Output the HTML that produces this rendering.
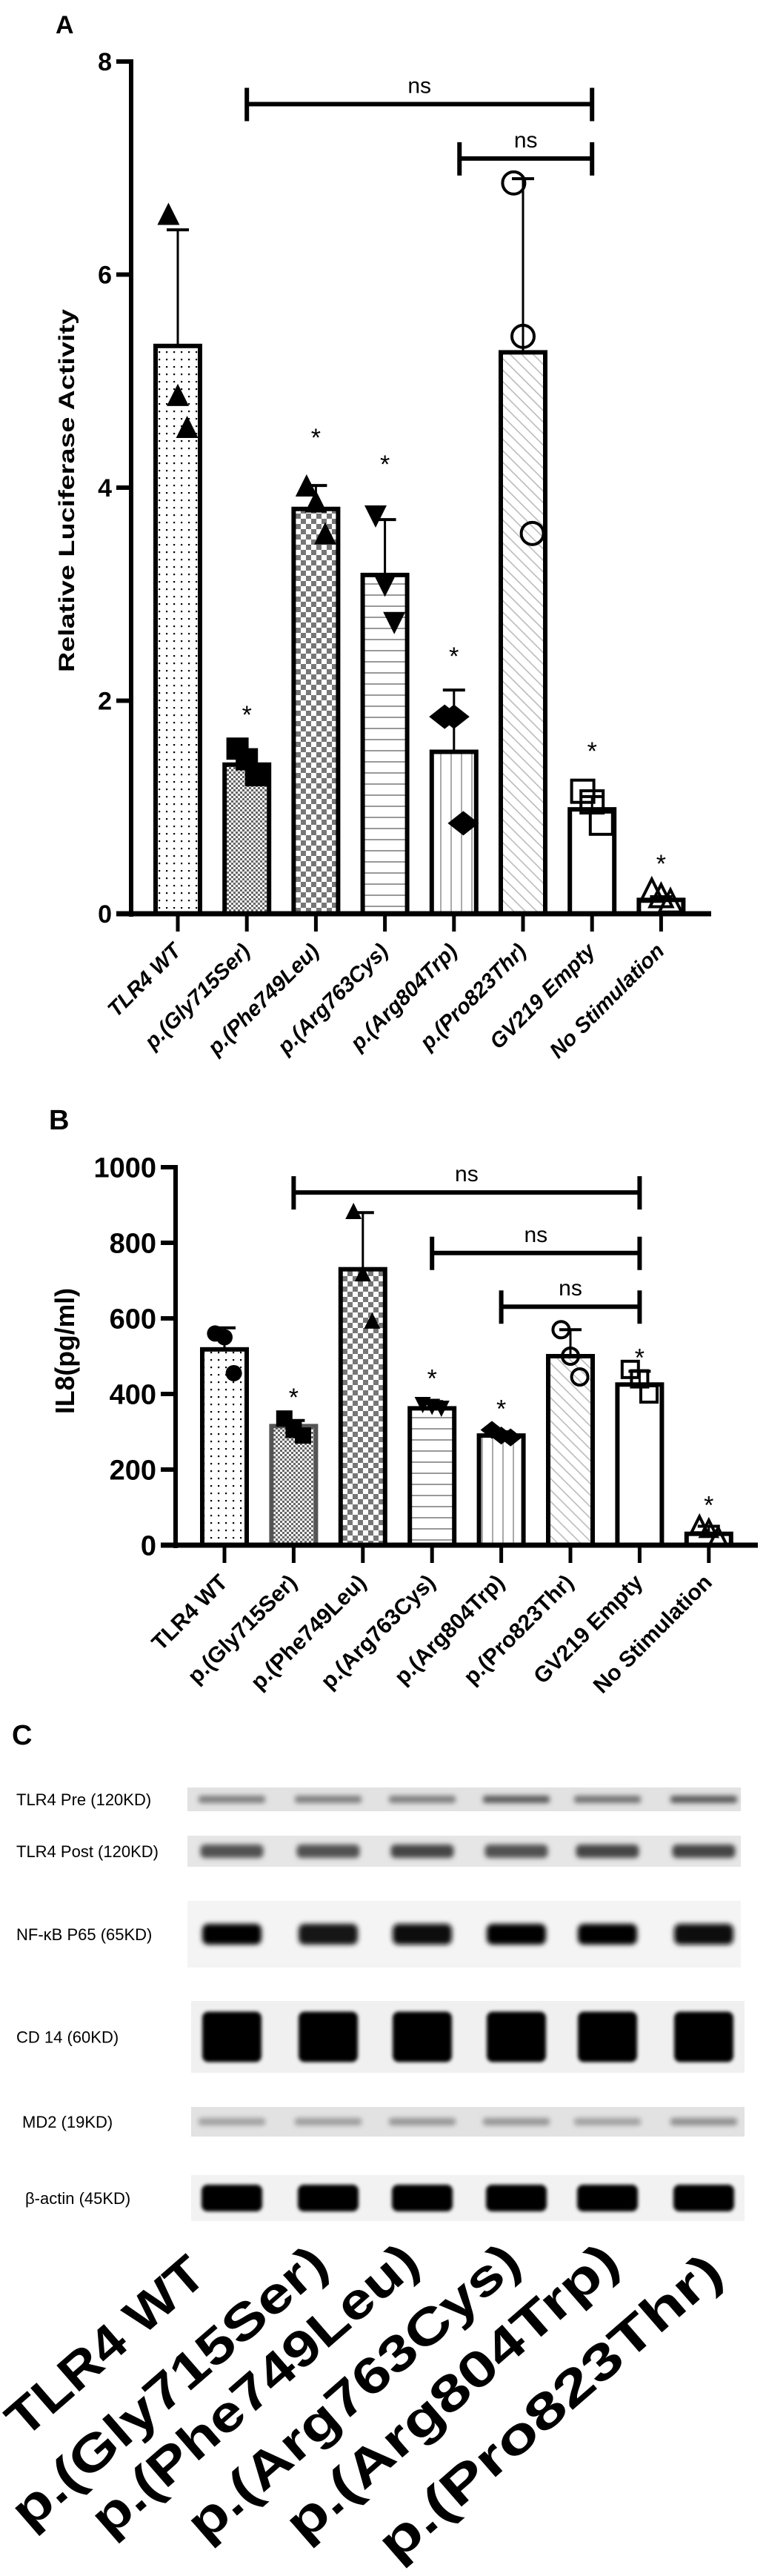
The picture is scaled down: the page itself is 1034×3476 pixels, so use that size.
<!DOCTYPE html>
<html><head><meta charset="utf-8"><style>
html,body{margin:0;padding:0;background:#fff;}
svg{display:block;}
text{font-family:"Liberation Sans",sans-serif;}
</style></head><body>
<svg id="fig" width="1034" height="3476" viewBox="0 0 1034 3476" xmlns="http://www.w3.org/2000/svg">
<defs>
<pattern id="p-dots" width="10" height="10" patternUnits="userSpaceOnUse"><rect width="10" height="10" fill="#fff"/><rect x="4" y="4" width="2.2" height="2.2" fill="#000"/></pattern>
<pattern id="p-fine" width="6" height="6" patternUnits="userSpaceOnUse"><rect width="6" height="6" fill="#fff"/><rect width="3" height="3" fill="#666"/><rect x="3" y="3" width="3" height="3" fill="#666"/></pattern>
<pattern id="p-coarse" width="14" height="14" patternUnits="userSpaceOnUse"><rect width="14" height="14" fill="#fff"/><rect width="7" height="7" fill="#777"/><rect x="7" y="7" width="7" height="7" fill="#777"/></pattern>
<pattern id="p-hl" width="15" height="15" patternUnits="userSpaceOnUse"><rect width="15" height="15" fill="#fff"/><rect y="7" width="15" height="2" fill="#999"/></pattern>
<pattern id="p-vl" width="14" height="14" patternUnits="userSpaceOnUse"><rect width="14" height="14" fill="#fff"/><rect x="6" width="2" height="14" fill="#aaa"/></pattern>
<pattern id="p-diag" width="11" height="11" patternUnits="userSpaceOnUse" patternTransform="rotate(-45)"><rect width="11" height="11" fill="#fff"/><rect x="5" width="1.6" height="11" fill="#bbb"/></pattern>
<pattern id="p-white" width="10" height="10" patternUnits="userSpaceOnUse"><rect width="10" height="10" fill="#fff"/></pattern>
<filter id="blur" x="-40%" y="-100%" width="180%" height="300%"><feGaussianBlur stdDeviation="3.5"/></filter>
<filter id="blur2" x="-30%" y="-60%" width="160%" height="220%"><feGaussianBlur stdDeviation="2.5"/></filter>
</defs>
<g id="panelA"></g>
<g id="panelB"></g>
<g id="panelC"></g>
</svg>
<script>
// ---- shared data ----
var categories = ["TLR4 WT","p.(Gly715Ser)","p.(Phe749Leu)","p.(Arg763Cys)","p.(Arg804Trp)","p.(Pro823Thr)","GV219 Empty","No Stimulation"];
var fills = ["p-dots","p-fine","p-coarse","p-hl","p-vl","p-diag","p-white","p-white"];
// Panel A
var aMeans = [5.33,1.40,3.80,3.18,1.52,5.27,0.98,0.13];
var aErrTop = [6.42,null,4.02,3.70,2.10,6.90,1.10,0.16];
var aPoints = [[6.55,4.85,4.55],[1.55,1.45,1.30],[4.0,3.85,3.55],[3.75,3.1,2.75],[1.85,1.85,0.85],[6.86,5.42,3.57],[1.15,1.05,0.85],[0.2,0.15,0.1]];
var aStars = [null,1.9,4.5,4.25,2.45,null,1.56,0.5];
var aTicks = [0,2,4,6,8];
var aNs = [[1,6,7.6],[4.08,6,7.09]];
var aMarkers = ["tri","sq","tri","tri-down","dia","o-circ","o-sq","o-tri"];
// Panel B
var bMeans = [518,315,730,362,290,500,425,30];
var bErrTop = [575,330,880,380,300,570,460,50];
var bPoints = [[560,550,455],[335,305,290],[880,715,590],[375,370,365],[305,290,285],[570,500,445],[465,440,400],[50,40,20]];
var bStars = [null,400,null,450,370,null,505,115];
var bTicks = [0,200,400,600,800,1000];
var bNs = [[1,6,933],[3,6,773],[4,6,631]];
var bMarkers = ["circ","sq","tri","tri-down","dia","o-circ","o-sq","o-tri"];
var jitter = [-0.35,0,0.35];

var NS = "http://www.w3.org/2000/svg";
function mk(parent, tag, attrs, txt){
  var e = document.createElementNS(NS, tag);
  for (var k in attrs) e.setAttribute(k, attrs[k]);
  if (txt !== undefined) e.textContent = txt;
  parent.appendChild(e);
  return e;
}

function marker(g, type, cx, cy, s){
  var e;
  var fill = type.indexOf("o-") === 0 ? "none" : "#000";
  var st = {fill: fill, stroke: "#000", "stroke-width": fill === "none" ? 4 : 0};
  var t = type.replace("o-","");
  if (t === "tri") e = mk(g,"polygon",Object.assign({points:(cx)+","+(cy-s*0.6)+" "+(cx-s/2)+","+(cy+s*0.4)+" "+(cx+s/2)+","+(cy+s*0.4)},st));
  else if (t === "tri-down") e = mk(g,"polygon",Object.assign({points:(cx)+","+(cy+s*0.6)+" "+(cx-s/2)+","+(cy-s*0.4)+" "+(cx+s/2)+","+(cy-s*0.4)},st));
  else if (t === "sq") e = mk(g,"rect",Object.assign({x:cx-s/2,y:cy-s/2,width:s,height:s},st));
  else if (t === "dia") e = mk(g,"polygon",Object.assign({points:cx+","+(cy-s*0.55)+" "+(cx+s*0.7)+","+cy+" "+cx+","+(cy+s*0.55)+" "+(cx-s*0.7)+","+cy},st));
  else e = mk(g,"circle",Object.assign({cx:cx,cy:cy,r:s/2},st));
  
  
}

function drawBar(cfg){
  var g = document.getElementById(cfg.id);
  var y = function(v){ return cfg.y0 - (v - 0) * (cfg.y0 - cfg.yTop) / cfg.max; };
  var x = function(i){ return cfg.x0 + i * cfg.step; };
  var L = mk(g,"text",{x:cfg.letter[0],y:cfg.letter[1],"font-size":cfg.letterSize,"font-weight":"bold"},cfg.letterText);
  
  
  for (var i=0;i<cfg.means.length;i++){
    var cx = x(i), top = y(cfg.means[i]);
    var r = mk(g,"rect",{x:cx-cfg.bw/2,y:top,width:cfg.bw,height:cfg.y0-top,fill:"url(#"+fills[i]+")",stroke:(i===1&&cfg.id==="panelB")?"#555":"#000","stroke-width":cfg.bs});
    
    
  }
  for (var i=0;i<cfg.means.length;i++){
    if (cfg.err[i]===null) continue;
    var cx = x(i);
    var eg = mk(g,"g",{});
    
    
    mk(eg,"line",{x1:cx,x2:cx,y1:y(cfg.means[i]),y2:y(cfg.err[i]),stroke:"#000","stroke-width":3});
    mk(eg,"line",{x1:cx-15,x2:cx+15,y1:y(cfg.err[i]),y2:y(cfg.err[i]),stroke:"#000","stroke-width":4});
  }
  for (var i=0;i<cfg.points.length;i++){
    for (var j=0;j<cfg.points[i].length;j++){
      var off = cfg.jit ? jitter[j]*cfg.bw*0.6 : 0;
      marker(g, cfg.markers[i], x(i)+off, y(cfg.points[i][j]), cfg.ms);
    }
  }
  for (var i=0;i<cfg.stars.length;i++){
    if (cfg.stars[i]===null) continue;
    var s = mk(g,"text",{x:x(i),y:y(cfg.stars[i])+16,"font-size":34,"text-anchor":"middle"},"*");
    
    
  }
  for (var k=0;k<cfg.ns.length;k++){
    var b = cfg.ns[k], x1 = x(b[0]), x2 = x(b[1]), yy = y(b[2]);
    var bg = mk(g,"g",{});
    
    
    mk(bg,"line",{x1:x1,x2:x2,y1:yy,y2:yy,stroke:"#000","stroke-width":6});
    mk(bg,"line",{x1:x1,x2:x1,y1:yy-22,y2:yy+23,stroke:"#000","stroke-width":6});
    mk(bg,"line",{x1:x2,x2:x2,y1:yy-22,y2:yy+23,stroke:"#000","stroke-width":6});
    mk(bg,"text",{x:(x1+x2)/2,y:yy-15,"font-size":cfg.nsSize,"text-anchor":"middle"},"ns");
  }
  var ax = mk(g,"g",{});
  
  
  mk(ax,"line",{x1:cfg.ax,x2:cfg.ax,y1:y(cfg.max)-3,y2:cfg.y0+4,stroke:"#000","stroke-width":6});
  mk(ax,"line",{x1:cfg.ax-20,x2:cfg.xEnd,y1:cfg.y0,y2:cfg.y0,stroke:"#000","stroke-width":7});
  for (var t=0;t<cfg.ticks.length;t++){
    var ty = y(cfg.ticks[t]);
    mk(ax,"line",{x1:cfg.ax-20,x2:cfg.ax,y1:ty,y2:ty,stroke:"#000","stroke-width":6});
    var tl = mk(ax,"text",{x:cfg.ax-26,y:ty+cfg.tickSize*0.36,"font-size":cfg.tickSize,"font-weight":"bold","text-anchor":"end"},String(cfg.ticks[t]));
    
    
  }
  for (var i=0;i<categories.length;i++){
    var cx = x(i);
    mk(ax,"line",{x1:cx,x2:cx,y1:cfg.y0,y2:cfg.y0+24,stroke:"#000","stroke-width":5});
    var lx = cx+6, ly = cfg.y0+cfg.labOff;
    var lab = mk(ax,"text",{x:lx,y:ly,"font-size":cfg.labSize,"font-weight":"bold","font-style":cfg.labItalic?"italic":"normal","text-anchor":"end",transform:"rotate(-45 "+lx+" "+ly+")"},categories[i]);
    
    
  }
  var yl = mk(g,"text",{x:cfg.ylab[0],y:cfg.ylab[1],"font-size":cfg.ylabSize,"font-weight":"bold","text-anchor":"middle",transform:"rotate(-90 "+cfg.ylab[0]+" "+cfg.ylab[1]+")",textLength:cfg.ylabLen,lengthAdjust:"spacingAndGlyphs"},cfg.ylabText);
  
  
}

drawBar({id:"panelA",y0:1233,yTop:83,max:8,x0:240,step:93.2,bw:60,bs:6,ax:177,xEnd:960,
  means:aMeans,err:aErrTop,points:aPoints,stars:aStars,ns:aNs,ticks:aTicks,markers:aMarkers,
  ms:30,jit:true,nsSize:30,tickSize:34,labSize:29,labOff:52,labItalic:true,
  letter:[75,45],letterSize:34,letterText:"A",ylab:[100,662],ylabSize:30,ylabLen:490,ylabText:"Relative Luciferase Activity"});

drawBar({id:"panelB",y0:2085,yTop:1575,max:1000,x0:303,step:93.4,bw:60,bs:6,ax:237,xEnd:1023,
  means:bMeans,err:bErrTop,points:bPoints,stars:bStars,ns:bNs,ticks:bTicks,markers:bMarkers,
  ms:22,jit:true,nsSize:30,tickSize:38,labSize:30,labOff:52,labItalic:false,
  letter:[66,1524],letterSize:38,letterText:"B",ylab:[100,1823],ylabSize:36,ylabLen:170,ylabText:"IL8(pg/ml)"});

// ---- Panel C (western blots) ----
var blotRows = ["TLR4 Pre (120KD)","TLR4 Post (120KD)","NF-\u03baB P65 (65KD)","CD 14 (60KD)","MD2 (19KD)","\u03b2-actin (45KD)"];
var bandIntensity = [[0.45,0.45,0.45,0.6,0.5,0.6],[0.65,0.65,0.7,0.65,0.7,0.7],[1,0.9,0.95,1,1,0.95],[1,1,1,1,1,1],[0.3,0.32,0.35,0.35,0.3,0.38],[1,1,1,1,1,1]];
var lanes = ["TLR4 WT","p.(Gly715Ser)","p.(Phe749Leu)","p.(Arg763Cys)","p.(Arg804Trp)","p.(Pro823Thr)"];
(function(){
  var g = document.getElementById("panelC");
  var C = mk(g,"text",{x:16,y:2354,"font-size":38,"font-weight":"bold"},"C");
  
  
  // x, y, w, h, bg, bandH, bandW
  var rowBox = [[253,2412,747,32,"#e2e2e2",10,90],[253,2477,747,42,"#e6e6e6",18,85],[253,2565,747,90,"#f4f4f4",28,80],[258,2700,747,97,"#f0f0f0",68,80],[258,2843,747,40,"#e2e2e2",10,90],[258,2935,747,62,"#f2f2f2",36,82]];
  var laneX = [313,443,570,697,820,950];
  for (var r=0;r<blotRows.length;r++){
    var b = rowBox[r];
    var rg = mk(g,"g",{});
    
    
    mk(rg,"rect",{x:b[0],y:b[1],width:b[2],height:b[3],fill:b[4]});
    for (var l=0;l<laneX.length;l++){
      var inten = bandIntensity[r][l];
      var shade = Math.round(230*(1-inten));
      var col = "rgb("+shade+","+shade+","+shade+")";
      var band = mk(rg,"rect",{x:laneX[l]-b[6]/2,y:b[1]+b[3]/2-b[5]/2,width:b[6],height:b[5],rx:Math.min(8,b[5]/3),fill:col,filter:(r===3||r===5)?"url(#blur2)":"url(#blur)"});
      
      
    }
    var t = mk(g,"text",{x:r===4?30:(r===5?34:22),y:b[1]+b[3]/2+8,"font-size":22},blotRows[r]);
    
    
  }
  var labEnd = [[282,3075,330],[447,3061,540],[570,3058,560],[707,3058,570],[840,3058,570],[980,3072,590]];
  for (var i=0;i<lanes.length;i++){
    var e = labEnd[i];
    var t = mk(g,"text",{x:e[0],y:e[1],"font-size":68,"font-weight":"bold","text-anchor":"end",textLength:e[2],lengthAdjust:"spacingAndGlyphs",transform:"rotate(-41 "+e[0]+" "+e[1]+")"},lanes[i]);
    
    
  }
})();
</script>
</body></html>
